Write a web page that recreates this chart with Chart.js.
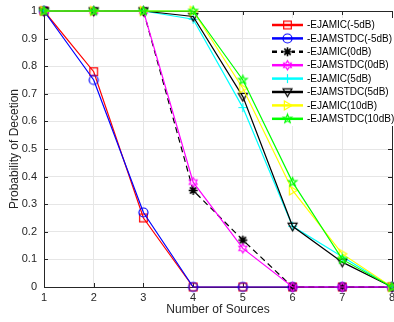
<!DOCTYPE html>
<html>
<head>
<meta charset="utf-8">
<script src="https://cdn.jsdelivr.net/npm/chart.js@4"></script>
<style>
  html, body { margin: 0; padding: 0; background: #fff; }
  #wrap { width: 394px; height: 322px; }
</style>
</head>
<body>
<div id="wrap"><canvas id="pdChart" width="394" height="322"></canvas></div>
<script>
// Daten
const sources = ['1', '2', '3', '4', '5', '6', '7', '8'];
const yTicks = [0, 0.1, 0.2, 0.3, 0.4, 0.5, 0.6, 0.7, 0.8, 0.9, 1];

const ejamicM5 = [1, 0.78, 0.25, 0, 0, 0, 0, 0];
const ejamstdcM5 = [1, 0.75, 0.27, 0, 0, 0, 0, 0];
const ejamic0 = [1, 1, 1, 0.35, 0.17, 0, 0, 0];
const ejamstdc0 = [1, 1, 1, 0.38, 0.14, 0, 0, 0];
const ejamic5 = [1, 1, 1, 0.97, 0.65, 0.22, 0.11, 0];
const ejamstdc5 = [1, 1, 1, 0.98, 0.69, 0.22, 0.09, 0];
const ejamic10 = [1, 1, 1, 1, 0.72, 0.35, 0.12, 0];
const ejamstdc10 = [1, 1, 1, 1, 0.75, 0.38, 0.10, 0];

// Marker zeichnen
function drawMarker(ctx, style, cx, cy, r) {
    ctx.beginPath();
    if (style === 'square') {
        ctx.rect(cx - r * 0.85, cy - r * 0.85, r * 1.7, r * 1.7);
    } else if (style === 'circle') {
        ctx.arc(cx, cy, r, 0, Math.PI * 2);
    } else if (style === 'asterisk') {
        for (let a = 0; a < 4; a++) {
            const t = a * Math.PI / 4;
            ctx.moveTo(cx - r * Math.cos(t), cy - r * Math.sin(t));
            ctx.lineTo(cx + r * Math.cos(t), cy + r * Math.sin(t));
        }
    } else if (style === 'plus') {
        ctx.moveTo(cx - r, cy); ctx.lineTo(cx + r, cy);
        ctx.moveTo(cx, cy - r); ctx.lineTo(cx, cy + r);
    } else if (style === 'triDown') {
        ctx.moveTo(cx - r, cy - r * 0.7);
        ctx.lineTo(cx + r, cy - r * 0.7);
        ctx.lineTo(cx, cy + r);
        ctx.closePath();
    } else if (style === 'triRight') {
        ctx.moveTo(cx - r * 0.7, cy - r);
        ctx.lineTo(cx + r, cy);
        ctx.lineTo(cx - r * 0.7, cy + r);
        ctx.closePath();
    } else if (style === 'hexagram' || style === 'pentagram') {
        const n = style === 'hexagram' ? 6 : 5;
        const inner = style === 'hexagram' ? 0.58 : 0.42;
        for (let i = 0; i < n * 2; i++) {
            const rr = i % 2 === 0 ? r : r * inner;
            const t = -Math.PI / 2 + i * Math.PI / n;
            const px = cx + rr * Math.cos(t), py = cy + rr * Math.sin(t);
            if (i === 0) ctx.moveTo(px, py); else ctx.lineTo(px, py);
        }
        ctx.closePath();
    }
    ctx.stroke();
}

function makeMarker(style, color, r, lw) {
    const size = Math.ceil(r * 2 + lw + 2);
    const c = document.createElement('canvas');
    c.width = size; c.height = size;
    const ctx = c.getContext('2d');
    ctx.strokeStyle = color;
    ctx.lineWidth = lw;
    drawMarker(ctx, style, size / 2, size / 2, r);
    return c;
}

const seriesInfo = [
    { label: '-EJAMIC(-5dB)', data: ejamicM5, color: '#ff0000', marker: 'square', dash: [] },
    { label: '-EJAMSTDC(-5dB)', data: ejamstdcM5, color: '#0000ff', marker: 'circle', dash: [] },
    { label: '-EJAMIC(0dB)', data: ejamic0, color: '#000000', marker: 'asterisk', dash: [6, 4] },
    { label: '-EJAMSTDC(0dB)', data: ejamstdc0, color: '#ff00ff', marker: 'hexagram', dash: [] },
    { label: '-EJAMIC(5dB)', data: ejamic5, color: '#00ffff', marker: 'plus', dash: [] },
    { label: '-EJAMSTDC(5dB)', data: ejamstdc5, color: '#000000', marker: 'triDown', dash: [] },
    { label: '-EJAMIC(10dB)', data: ejamic10, color: '#ffff00', marker: 'triRight', dash: [] },
    { label: '-EJAMSTDC(10dB)', data: ejamstdc10, color: '#00ff00', marker: 'pentagram', dash: [] }
];

seriesInfo.forEach(s => {
    const lw = s.marker === 'asterisk' ? 1.6 : 1.2;
    s.img = makeMarker(s.marker, s.color, 4.5, lw);
});

// Rahmen, Ticks und Legende im MATLAB-Stil
const matlabBox = {
    id: 'matlabBox',
    beforeDatasetsDraw(chart) {
        const { ctx, chartArea: a, scales } = chart;
        ctx.save();
        ctx.strokeStyle = '#262626';
        ctx.lineWidth = 1;
        ctx.strokeRect(Math.round(a.left) + 0.5, Math.round(a.top) + 0.5,
            Math.round(a.right - a.left), Math.round(a.bottom - a.top));
        ctx.beginPath();
        scales.y.ticks.forEach(t => {
            const y = Math.round(scales.y.getPixelForValue(t.value)) + 0.5;
            ctx.moveTo(a.left, y); ctx.lineTo(a.left + 4, y);
            ctx.moveTo(a.right, y); ctx.lineTo(a.right - 4, y);
        });
        sources.forEach((s, i) => {
            const x = Math.round(scales.x.getPixelForValue(i)) + 0.5;
            ctx.moveTo(x, a.bottom); ctx.lineTo(x, a.bottom - 4);
            ctx.moveTo(x, a.top); ctx.lineTo(x, a.top + 4);
        });
        ctx.stroke();
        ctx.restore();
    },
    afterDraw(chart) {
        const ctx = chart.ctx;
        ctx.save();
        ctx.fillStyle = '#ffffff';
        ctx.fillRect(270, 18, 124, 108);
        seriesInfo.forEach((s, i) => {
            const y = 25 + i * 13.4;
            ctx.strokeStyle = s.color;
            ctx.lineWidth = 2.5;
            ctx.setLineDash(s.dash.length ? [5, 4] : []);
            ctx.beginPath();
            ctx.moveTo(272, y); ctx.lineTo(303, y);
            ctx.stroke();
            ctx.setLineDash([]);
            if (s.dash.length) {
                ctx.fillStyle = '#fff';
                ctx.fillRect(283, y - 5, 9, 10);
            }
            ctx.drawImage(s.img, 287.5 - s.img.width / 2, y - s.img.height / 2);
            ctx.fillStyle = '#000';
            ctx.font = '10px "Liberation Sans", Arial, sans-serif';
            ctx.textBaseline = 'middle';
            ctx.fillText(s.label, 307, y + 0.5);
        });
        ctx.restore();
    }
};

const pdCtx = document.getElementById('pdChart').getContext('2d');
const pdChart = new Chart(pdCtx, {
    type: 'line',
    data: {
        labels: sources,
        datasets: seriesInfo.map((s, i) => ({
            label: s.label,
            data: s.data,
            borderColor: s.color,
            backgroundColor: s.color,
            borderWidth: 1.2,
            borderDash: s.dash,
            pointStyle: s.img,
            pointRadius: 5,
            tension: 0,
            clip: false,
            order: seriesInfo.length - i
        }))
    },
    options: {
        responsive: false,
        animation: false,
        devicePixelRatio: 1,
        layout: { autoPadding: false, padding: { left: 0, right: 2, top: 11, bottom: 0 } },
        plugins: {
            legend: { display: false },
            tooltip: { enabled: false }
        },
        scales: {
            x: {
                offset: false,
                grid: { color: '#e6e6e6', drawTicks: false },
                border: { display: false },
                ticks: {
                    color: '#262626',
                    padding: 4,
                    maxRotation: 0,
                    font: { family: '"Liberation Sans", Arial, sans-serif', size: 11 }
                },
                title: {
                    display: true,
                    text: 'Number of Sources',
                    color: '#262626',
                    padding: { top: 0, bottom: 5 },
                    font: { family: '"Liberation Sans", Arial, sans-serif', size: 12 }
                },
                afterFit(scale) {
                    scale.height = 35;
                    scale.paddingLeft = 0;
                    scale.paddingRight = 0;
                }
            },
            y: {
                min: 0,
                max: 1,
                grid: { color: '#e6e6e6', drawTicks: false },
                border: { display: false },
                afterBuildTicks(scale) {
                    scale.ticks = yTicks.map(v => ({ value: v }));
                },
                ticks: {
                    color: '#262626',
                    padding: 7,
                    font: { family: '"Liberation Sans", Arial, sans-serif', size: 11 },
                    callback: v => String(Number(v.toFixed(1)))
                },
                title: {
                    display: true,
                    text: 'Probability of Decetion',
                    color: '#262626',
                    padding: { top: 7, bottom: 0 },
                    font: { family: '"Liberation Sans", Arial, sans-serif', size: 12 }
                },
                afterFit(scale) {
                    scale.width = 44;
                    scale.paddingTop = 0;
                    scale.paddingBottom = 0;
                }
            }
        }
    },
    plugins: [matlabBox]
});
</script>
</body>
</html>
